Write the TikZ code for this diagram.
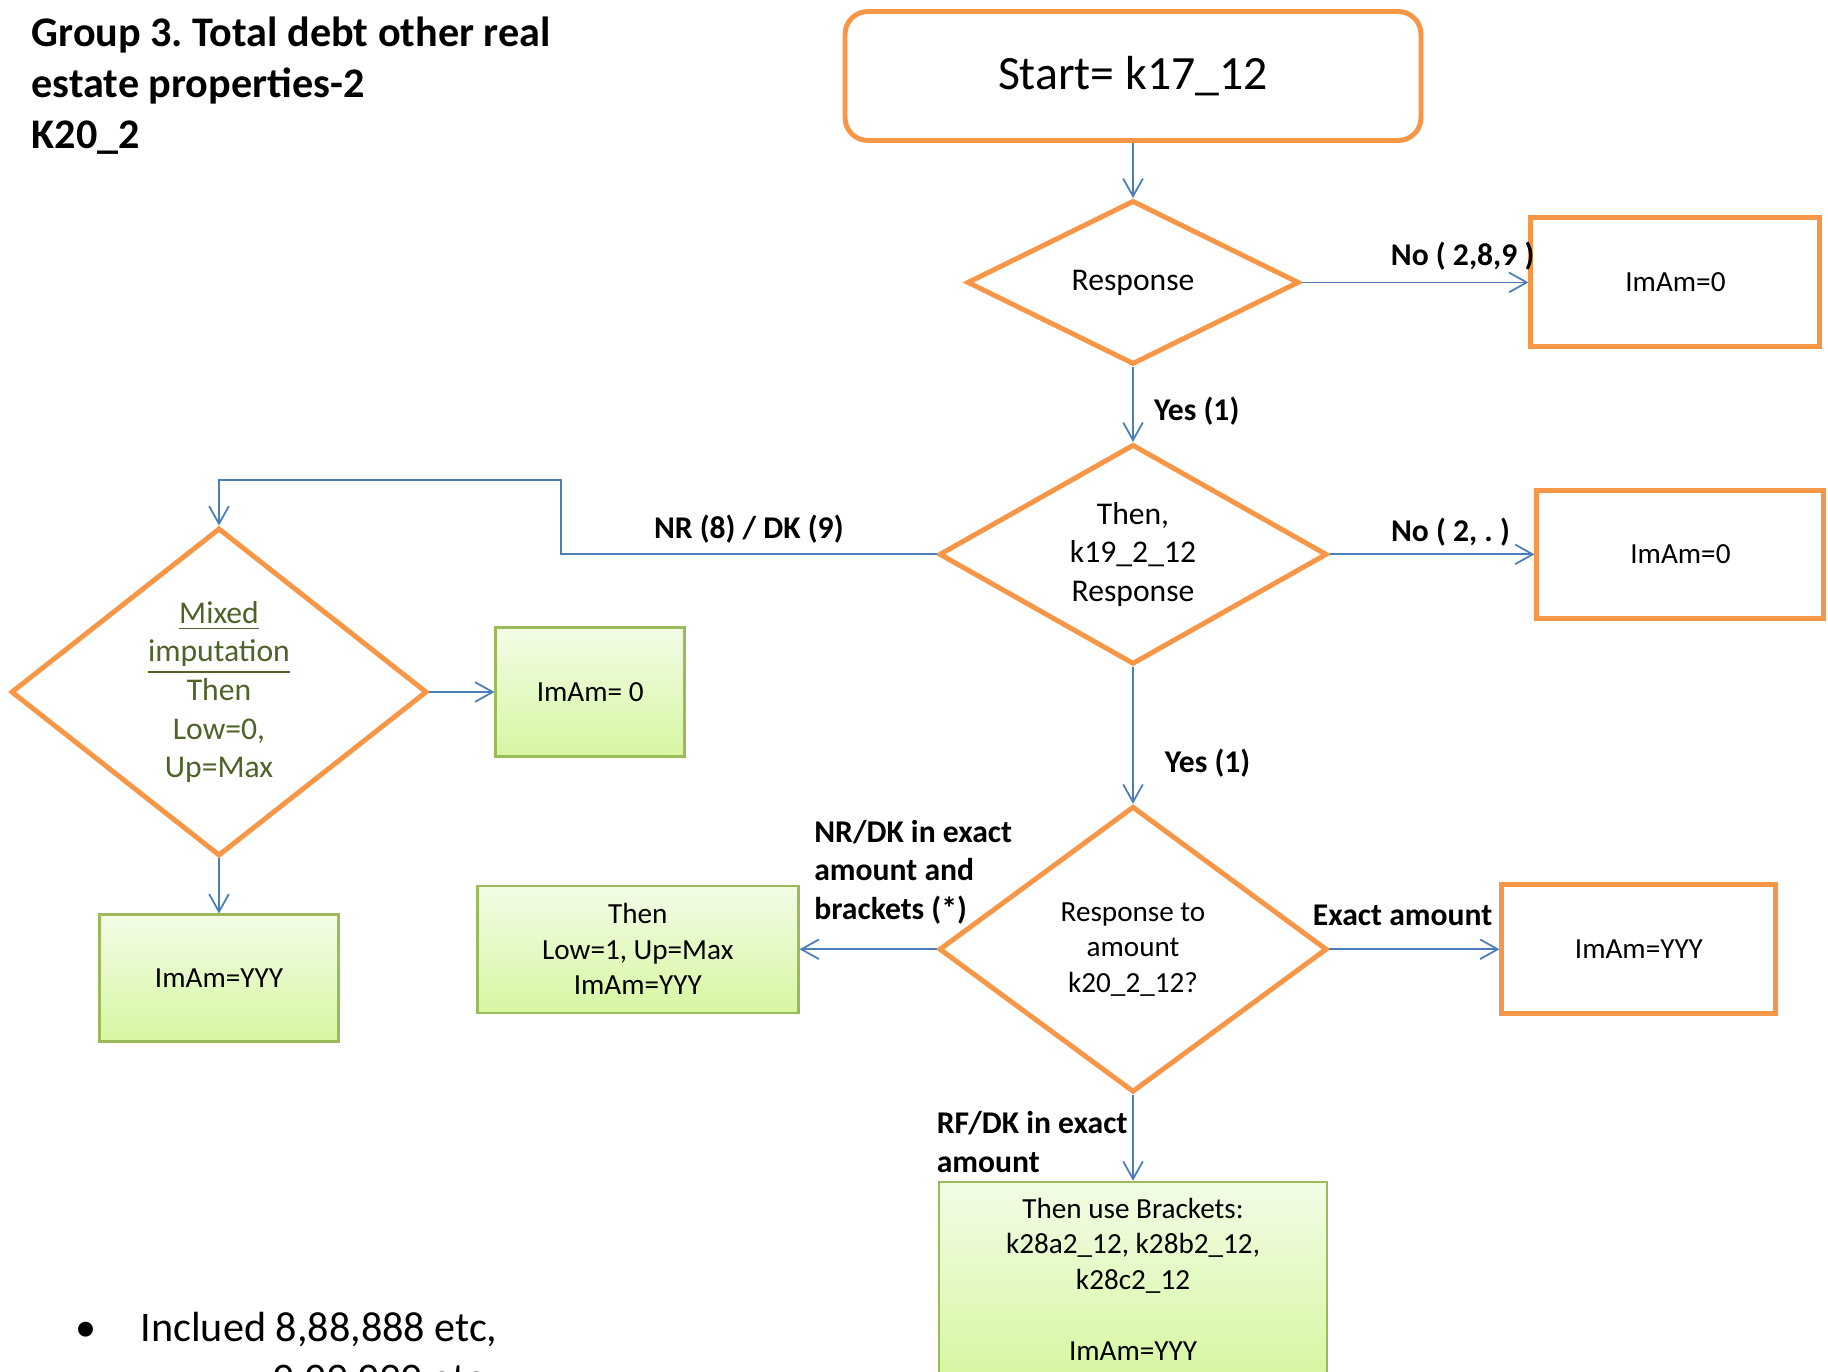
\documentclass[tikz,border=0pt]{standalone}
\usepackage{fontspec}
\setmainfont{Carlito}
\usepackage{xcolor}
\usetikzlibrary{arrows.meta, positioning, shapes.geometric}
\frenchspacing

\definecolor{naranja}{HTML}{F79646}
\definecolor{azul}{HTML}{4A7EBB}
\definecolor{verdeborde}{HTML}{9BBB59}
\definecolor{verdearriba}{HTML}{F2FCE6}
\definecolor{verdeabajo}{HTML}{D6F7A2}
\definecolor{oliva}{HTML}{4F6228}

\begin{document}
\begin{tikzpicture}[
    % Estilos globales
    >={Straight Barb[length=5pt,width=5.6pt]},
    % Estilo para el inicio (naranja, redondeado)
    startbox/.style = {
        rectangle,
        draw=naranja,
        line width=1.4pt,
        rounded corners=6.5pt,
        minimum width=5.76cm,
        minimum height=1.29cm,
        font=\fontsize{13.6}{16.5}\selectfont
    },
    % Estilo para las preguntas (rombo naranja)
    decision/.style = {
        diamond,
        draw=naranja,
        line width=1.4pt,
        inner sep=0pt,
        align=center,
        font=\fontsize{9}{11}\selectfont
    },
    % Estilo para los resultados finales (naranja)
    outcome/.style = {
        rectangle,
        draw=naranja,
        line width=1.4pt,
        minimum height=1.29cm,
        align=center,
        font=\fontsize{8.3}{10.1}\selectfont
    },
    % Estilo para las imputaciones (verde)
    imputed/.style = {
        rectangle,
        draw=verdeborde,
        line width=0.7pt,
        top color=verdearriba,
        bottom color=verdeabajo,
        minimum height=1.27cm,
        align=center,
        font=\fontsize{8.3}{10.1}\selectfont
    },
    % Estilo de las etiquetas de las flechas
    branch/.style = {font=\bfseries\fontsize{9}{11}\selectfont},
    % Estilo de las líneas
    connection/.style = {draw=azul, line width=0.5pt, ->}
]

    % --- MARCO ---
    \clip (0,0) rectangle (18.28,-13.71);
    \fill[white] (0,0) rectangle (18.28,-13.71);

    % --- NODOS ---

    % Título
    \node[anchor=north west, align=left, inner sep=0pt, font=\bfseries\fontsize{12}{14.6}\selectfont] (title) at (0.31,-0.16)
        {Group 3. Total debt other real\\estate properties-2\\K20\_2};

    % Columna central
    \node[startbox] (start) at (11.33,-0.76) {Start= k17\_12};
    \node[decision, aspect=2.02, minimum width=3.32cm, minimum height=1.64cm, below=0.55cm of start] (resp) {Response};
    \node[decision, aspect=1.76, minimum width=3.88cm, minimum height=2.20cm, below=0.75cm of resp] (resp2) {Then,\\k19\_2\_12\\Response};
    \node[decision, aspect=1.36, minimum width=3.88cm, minimum height=2.86cm, below=1.37cm of resp2, font=\fontsize{8.3}{10.1}\selectfont] (amount) {Response to\\amount\\k20\_2\_12?};
    \node[imputed, minimum width=3.88cm, minimum height=1.94cm, below=0.86cm of amount] (brackets)
        {Then use Brackets:\\k28a2\_12, k28b2\_12,\\k28c2\_12\\[10.1pt]ImAm=YYY};

    % Columna derecha
    \node[outcome, minimum width=2.89cm, right=2.27cm of resp] (zero1) {ImAm=0};
    \node[outcome, minimum width=2.87cm, minimum height=1.28cm, right=2.05cm of resp2] (zero2) {ImAm=0};
    \node[outcome, minimum width=2.74cm, right=1.70cm of amount] (exact) {ImAm=YYY};

    % Izquierda del último rombo
    \node[imputed, minimum width=3.21cm, left=1.37cm of amount] (lowup) {Then\\Low=1, Up=Max\\ImAm=YYY};

    % Imputación mixta
    \node[decision, aspect=1.27, minimum width=4.16cm, minimum height=3.28cm, text=oliva] (mixed) at (2.19,-6.92)
        {\underline{Mixed}\\\underline{imputation}\\Then\\Low=0,\\Up=Max};
    \node[imputed, minimum width=1.89cm, minimum height=1.29cm, right=0.65cm of mixed] (zero3) {ImAm= 0};
    \node[imputed, minimum width=2.39cm, below=0.55cm of mixed] (yyy) {ImAm=YYY};

    % Nota al pie
    \node[anchor=base, inner sep=0pt, font=\fontsize{12}{14.6}\selectfont] (dot) at (0.86,-13.41) {\textbullet};
    \node[anchor=base west, inner sep=0pt, font=\fontsize{12}{14.6}\selectfont] (note) at (1.40,-13.41) {Inclued 8,88,888 etc,};
    \node[anchor=base west, inner sep=0pt, font=\fontsize{12}{14.6}\selectfont] (note2) at (2.72,-13.92) {9,99,999 etc};

    % Esquina de la flecha NR/DK
    \coordinate (nrturn) at (5.61,-4.80);

    % --- CONEXIONES ---
    \draw[connection] (start) -- (resp);
    \draw[connection] (resp) -- node[branch, above, pos=0.71] {No ( 2,8,9 )} (zero1);
    \draw[connection] (resp) -- node[branch, right=2.4pt, pos=0.59] {Yes (1)} (resp2);
    \draw[connection] (resp2) -- node[branch, above=-1.4pt, pos=0.59] {No ( 2, . )} (zero2);
    \draw[connection] (resp2.west) -| node[branch, above=-0.5pt, pos=0.25] {NR (8) / DK (9)} (nrturn) -| (mixed.north);
    \draw[connection] (resp2) -- node[branch, right=5.5pt, pos=0.70] {Yes (1)} (amount);
    \draw[connection] (mixed) -- (zero3);
    \draw[connection] (mixed) -- (yyy);
    \draw[connection] (amount) -- node[branch, above=3.5pt, pos=0.17, align=left] {NR/DK in exact\\amount and\\brackets (*)} (lowup);
    \draw[connection] (amount) -- node[branch, above=3pt, pos=0.43] {Exact amount} (exact);
    \draw[connection] (amount) -- node[branch, left=-2pt, pos=0.55, align=left] {RF/DK in exact\\amount} (brackets);

\end{tikzpicture}
\end{document}
